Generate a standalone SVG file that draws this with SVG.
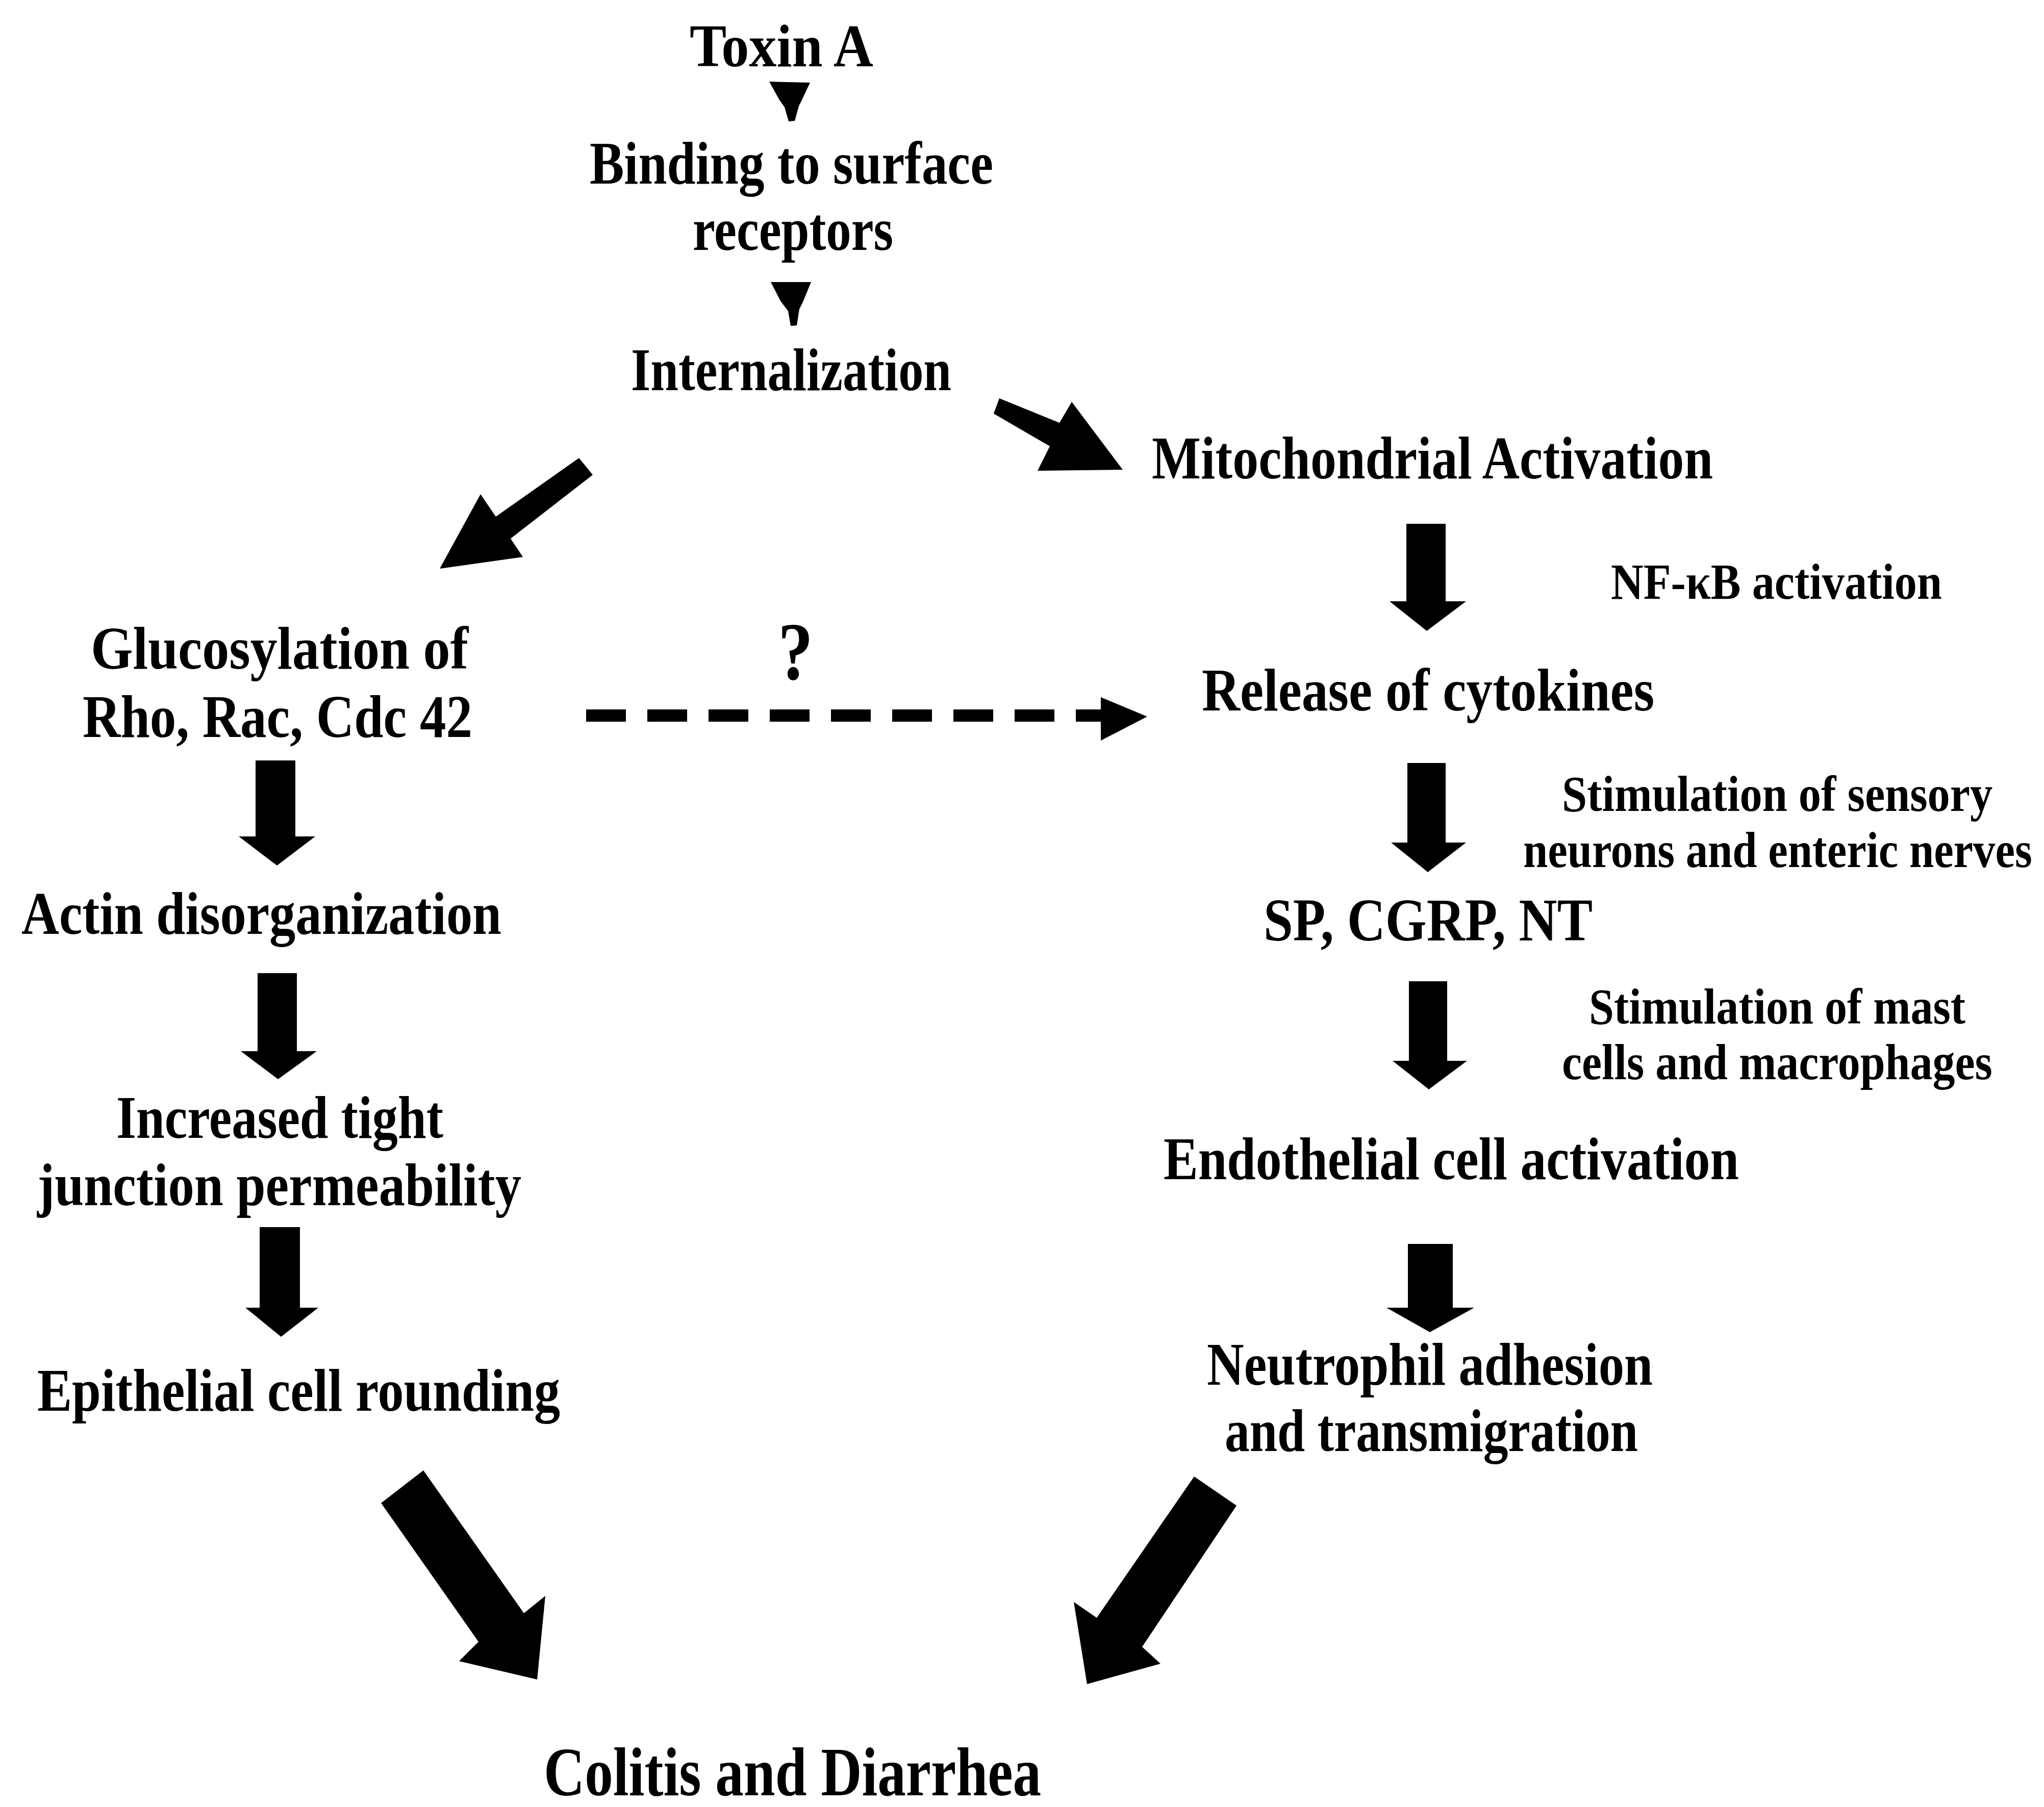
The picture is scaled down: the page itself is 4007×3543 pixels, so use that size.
<svg xmlns="http://www.w3.org/2000/svg" width="4007" height="3543" viewBox="0 0 4007 3543">
<style>
text{font-family:"Liberation Serif","Times New Roman",serif;font-weight:bold;fill:#000}
.m{font-size:118px}
.s{font-size:100px}
.b{font-size:135px}
.q{font-size:160px}
.a{fill:#000;stroke:none}
.d{fill:none;stroke:#000;stroke-width:24;stroke-dasharray:78 42}
</style>
<rect width="4007" height="3543" fill="#fff"/>
<g id="connectors">
<path class="a" d="M1508,160 L1588,162 L1572,196 L1566,208 L1558,237 L1546,238 L1538,210 L1528,196 Z"/>
<path class="a" d="M1511,553 L1590,553 L1574,592 L1567,606 L1562,638 L1550,639 L1545,610 L1530,590 Z"/>
<polygon class="a" points="1135,898 1162,931 1001,1056 1025,1092 862,1115 942,969 972,1013"/>
<polygon class="a" points="1959,781 2077,829 2101,788 2201,921 2034,923 2058,875 1948,811"/>
<line class="d" x1="1149" y1="1403" x2="2175" y2="1403"/>
<polygon class="a" points="2158,1367 2249,1405 2158,1452"/>
<path class="a" d="M501,1491 H579 V1640 H618 L543,1697 L468,1640 H501 Z"/>
<path class="a" d="M505,1908 H582 V2061 H621 L545,2116 L472,2061 H505 Z"/>
<path class="a" d="M509,2406 H588 V2564 H624 L551,2621 L481,2564 H509 Z"/>
<path class="a" d="M2757,1027 H2834 V1179 H2874 L2797,1237 L2724,1179 H2757 Z"/>
<path class="a" d="M2759,1496 H2834 V1652 H2874 L2799,1710 L2727,1652 H2759 Z"/>
<path class="a" d="M2762,1924 H2837 V2080 H2876 L2801,2136 L2730,2080 H2762 Z"/>
<path class="a" d="M2760,2439 H2848 V2564 H2890 L2803,2612 L2718,2564 H2760 Z"/>
<polygon class="a" points="747,2947 830,2883 1027,3163 1069,3129 1053,3293 900,3257 938,3219"/>
<polygon class="a" points="2341,2895 2424,2952 2239,3229 2275,3262 2131,3302 2105,3141 2150,3172"/>
</g>
<g id="toxin"><text class="m" x="1352" y="130" textLength="360" lengthAdjust="spacingAndGlyphs">Toxin A</text></g>
<g id="binding">
<text class="m" x="1156" y="360" textLength="791" lengthAdjust="spacingAndGlyphs">Binding to surface</text>
<text class="m" x="1358" y="490" textLength="393" lengthAdjust="spacingAndGlyphs">receptors</text>
</g>
<g id="internalization"><text class="m" x="1237" y="765" textLength="628" lengthAdjust="spacingAndGlyphs">Internalization</text></g>
<g id="mito"><text class="m" x="2258" y="938" textLength="1100" lengthAdjust="spacingAndGlyphs">Mitochondrial Activation</text></g>
<g id="nfkb"><text class="s" x="3158" y="1174" textLength="649" lengthAdjust="spacingAndGlyphs">NF-κB activation</text></g>
<g id="cytokines"><text class="m" x="2356" y="1393" textLength="887" lengthAdjust="spacingAndGlyphs">Release of cytokines</text></g>
<g id="sensory">
<g transform="translate(3062,1590) scale(0.883,1)"><text class="s" x="0" y="0" textLength="956" lengthAdjust="spacingAndGlyphs">Stimulation of sensory</text></g>
<g transform="translate(2986,1700) scale(0.866,1)"><text class="s" x="0" y="0" textLength="1152" lengthAdjust="spacingAndGlyphs">neurons and enteric nerves</text></g>
</g>
<g id="sp"><text class="m" x="2477" y="1844" textLength="645" lengthAdjust="spacingAndGlyphs">SP, CGRP, NT</text></g>
<g id="mast">
<text class="s" x="3115" y="2007" textLength="738" lengthAdjust="spacingAndGlyphs">Stimulation of mast</text>
<g transform="translate(3062,2116) scale(0.878,1)"><text class="s" x="0" y="0" textLength="961" lengthAdjust="spacingAndGlyphs">cells and macrophages</text></g>
</g>
<g id="endothelial"><text class="m" x="2281" y="2312" textLength="1128" lengthAdjust="spacingAndGlyphs">Endothelial cell activation</text></g>
<g id="neutrophil">
<text class="m" x="2366" y="2715" textLength="874" lengthAdjust="spacingAndGlyphs">Neutrophil adhesion</text>
<text class="m" x="2401" y="2845" textLength="810" lengthAdjust="spacingAndGlyphs">and transmigration</text>
</g>
<g id="glucosylation">
<text class="m" x="178" y="1311" textLength="740" lengthAdjust="spacingAndGlyphs">Glucosylation of</text>
<text class="m" x="162" y="1445" textLength="764" lengthAdjust="spacingAndGlyphs">Rho, Rac, Cdc 42</text>
</g>
<g id="question"><text class="q" x="1525" y="1332" textLength="69" lengthAdjust="spacingAndGlyphs">?</text></g>
<g id="actin"><text class="m" x="42" y="1831" textLength="941" lengthAdjust="spacingAndGlyphs">Actin disorganization</text></g>
<g id="tight">
<text class="m" x="228" y="2231" textLength="641" lengthAdjust="spacingAndGlyphs">Increased tight</text>
<text class="m" x="73" y="2363" textLength="949" lengthAdjust="spacingAndGlyphs">junction permeability</text>
</g>
<g id="epithelial"><text class="m" x="73" y="2766" textLength="1025" lengthAdjust="spacingAndGlyphs">Epithelial cell rounding</text></g>
<g id="colitis"><text class="b" x="1066" y="3520" textLength="975" lengthAdjust="spacingAndGlyphs">Colitis and Diarrhea</text></g>
</svg>
